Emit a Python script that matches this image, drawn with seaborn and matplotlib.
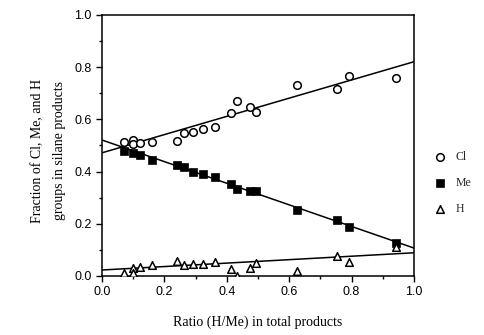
import numpy as np
import seaborn as sns
import matplotlib.pyplot as plt
from matplotlib.ticker import MultipleLocator

sns.set_style("ticks")
plt.rcParams['font.family'] = ['Liberation Sans', 'DejaVu Sans']

# ratio (H/Me) values, shared by the three series
ratio = [0.071, 0.098, 0.100, 0.122, 0.161, 0.241, 0.262, 0.293, 0.323,
         0.361, 0.413, 0.432, 0.474, 0.494, 0.624, 0.752, 0.792, 0.942]

cl_frac = [0.515, 0.521, 0.506, 0.511, 0.512, 0.518, 0.547, 0.553, 0.563,
           0.571, 0.626, 0.670, 0.649, 0.630, 0.732, 0.715, 0.766, 0.760]

me_ratio = [0.071, 0.098, 0.122, 0.161, 0.241, 0.262, 0.293, 0.323,
            0.361, 0.413, 0.432, 0.474, 0.494, 0.624, 0.754, 0.792, 0.942]
me_frac = [0.480, 0.470, 0.464, 0.444, 0.425, 0.416, 0.400, 0.390,
           0.381, 0.352, 0.332, 0.326, 0.326, 0.253, 0.215, 0.187, 0.125]

h_frac = [0.013, 0.029, 0.013, 0.033, 0.042, 0.057, 0.042, 0.046, 0.046,
          0.055, 0.026, 0.001, 0.029, 0.049, 0.020, 0.077, 0.055, 0.110]

# straight-line fits: (intercept, slope)
fit_cl = (0.472, 0.349)
fit_me = (0.521, -0.414)
fit_h = (0.023, 0.066)

fig = plt.figure(figsize=(4.84, 3.35), dpi=100)
ax = fig.add_axes([102/484, 1 - 276/335, 312/484, 261/335])
ax.set_xlim(0, 1)
ax.set_ylim(0, 1)

xfit = np.array([0.0, 1.0])
for b, m in (fit_cl, fit_me, fit_h):
    sns.lineplot(x=xfit, y=b + m * xfit, ax=ax, color='black', lw=1.1)

sns.scatterplot(x=ratio, y=cl_frac, ax=ax, marker='o', s=30,
                facecolor='white', edgecolor='black', linewidth=1.1, label='Cl', zorder=3)
sns.scatterplot(x=me_ratio, y=me_frac, ax=ax, marker='s', s=36,
                color='black', edgecolor='black', label='Me', zorder=3)
sns.scatterplot(x=ratio, y=h_frac, ax=ax, marker='^', s=30,
                facecolor='white', edgecolor='black', linewidth=1.1, label='H', zorder=3)

ax.xaxis.set_major_locator(MultipleLocator(0.2))
ax.xaxis.set_minor_locator(MultipleLocator(0.1))
ax.yaxis.set_major_locator(MultipleLocator(0.2))
ax.yaxis.set_minor_locator(MultipleLocator(0.1))
ax.set_xticklabels([f"{v:.1f}" for v in ax.get_xticks()])
ax.tick_params(which='both', direction='out', color='black', width=1, labelsize=9, labelcolor='black')
ax.tick_params(which='major', length=4)
ax.tick_params(which='minor', length=2.5)
for sp in ax.spines.values():
    sp.set_color('black')
    sp.set_linewidth(1.1)

serif = ['Liberation Serif', 'DejaVu Serif']
ax.set_xlabel("Ratio (H/Me) in total products", family=serif, fontsize=10, color='black')
ax.xaxis.set_label_coords(0.5, -0.15)
ax.set_ylabel("Fraction of Cl, Me, and H\ngroups in silane products", family=serif,
              fontsize=10, color='black', multialignment='center', linespacing=1.9)
ax.yaxis.set_label_coords(-0.115, 0.48)

leg = ax.legend(loc='upper left', bbox_to_anchor=(425/484, 1 - 140/335),
                bbox_transform=fig.transFigure, frameon=False, handlelength=0.8,
                handletextpad=0.9, labelspacing=1.2, prop={'family': serif, 'size': 8.5})

fig.savefig("out.png", dpi=100)
